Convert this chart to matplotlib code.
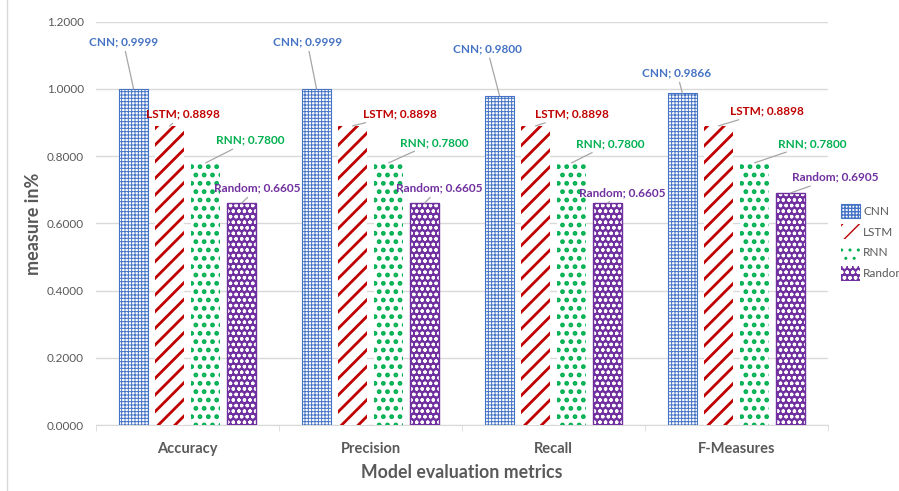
import numpy as np
import matplotlib.pyplot as plt
from matplotlib.patches import Patch

# chart data
metrics = ['Accuracy', 'Precision', 'Recall', 'F-Measures']
models = ['CNN', 'LSTM', 'RNN', 'Random']
cnn = [0.9999, 0.9999, 0.9800, 0.9866]
lstm = [0.8898, 0.8898, 0.8898, 0.8898]
rnn = [0.7800, 0.7800, 0.7800, 0.7800]
rand = [0.6605, 0.6605, 0.6605, 0.6905]
yticks = [0.0, 0.2, 0.4, 0.6, 0.8, 1.0, 1.2]

# where the Excel-style data labels sit (x in category units, y in data units)
lab_x = {
    'CNN': [-0.352, 0.653, 1.637, 2.675],
    'LSTM': [-0.025, 1.161, 2.101, 3.167],
    'RNN': [0.342, 1.347, 2.308, 3.413],
    'Random': [0.380, 1.374, 2.375, 3.540],
}
lab_y = {
    'CNN': [1.140, 1.140, 1.120, 1.048],
    'LSTM': [0.925, 0.925, 0.925, 0.934],
    'RNN': [0.847, 0.841, 0.837, 0.838],
    'Random': [0.705, 0.705, 0.692, 0.737],
}

colors = {'CNN': '#4472C4', 'LSTM': '#C00000', 'RNN': '#00B050', 'Random': '#7030A0'}
values = {'CNN': cnn, 'LSTM': lstm, 'RNN': rnn, 'Random': rand}

plt.rcParams['font.family'] = ['Lato', 'DejaVu Sans']
fig = plt.figure(figsize=(8.99, 4.91), dpi=100)
ax = fig.add_axes([0.107, 0.134, 0.814, 0.822])

x = np.arange(len(metrics))
step = 0.197
width = 0.158
offsets = (np.arange(4) - 1.5) * step


def draw_bars(name, off):
    c = colors[name]
    vals = values[name]
    if name == 'CNN':
        with plt.rc_context({'hatch.linewidth': 0.7}):
            ax.bar(x + off, vals, width, facecolor='white', edgecolor=c, hatch='+++++', linewidth=0.8, zorder=3)
    elif name == 'LSTM':
        with plt.rc_context({'hatch.linewidth': 2.0}):
            ax.bar(x + off, vals, width, facecolor='white', edgecolor=c, hatch='//', linewidth=0, zorder=3)
    elif name == 'RNN':
        with plt.rc_context({'hatch.linewidth': 2.2}):
            ax.bar(x + off, vals, width, facecolor='white', edgecolor=c, hatch='..', linewidth=0, zorder=3)
    else:
        with plt.rc_context({'hatch.linewidth': 0.9}):
            ax.bar(x + off, vals, width, facecolor=c, edgecolor='white', hatch='ooo', linewidth=0, zorder=3)
        ax.bar(x + off, vals, width, fill=False, edgecolor=c, linewidth=1.0, zorder=4)


for name, off in zip(models, offsets):
    draw_bars(name, off)
    for i, v in enumerate(values[name]):
        bx = x[i] + off
        ax.annotate(f'{name}; {v:.4f}', xy=(bx, v), xytext=(lab_x[name][i], lab_y[name][i]),
                    ha='center', va='center', fontsize=8.5, fontweight='bold',
                    color=colors[name], zorder=5,
                    arrowprops=dict(arrowstyle='-', color='#A6A6A6', lw=0.9,
                                    shrinkA=1, shrinkB=0))

ax.set_xlim(-0.5, 3.5)
ax.set_ylim(0, 1.2)
ax.set_yticks(yticks)
ax.set_yticklabels([f'{t:.4f}' for t in yticks], fontsize=8.5, color='#595959')
ax.set_xticks(x)
ax.set_xticklabels(metrics, fontsize=10.5, fontweight='bold', color='#595959')
ax.tick_params(axis='x', length=0, pad=12)
ax.tick_params(axis='y', length=0, pad=9)
ax.set_xticks(np.arange(-0.5, 4, 1), minor=True)
ax.tick_params(axis='x', which='minor', length=4, color='#D9D9D9')
ax.grid(axis='y', color='#D9D9D9', lw=1, zorder=0)
for s in ['top', 'right', 'left']:
    ax.spines[s].set_visible(False)
ax.spines['bottom'].set_color('#D9D9D9')
ax.set_xlabel('Model evaluation metrics', fontsize=12.8, fontweight='bold', color='#595959', labelpad=6)
ax.set_ylabel('measure in%', fontsize=13, fontweight='bold', color='#595959', labelpad=3)

# legend on the right, clipped by the figure edge like the original
handles = []
for name in models:
    c = colors[name]
    if name == 'CNN':
        handles.append(Patch(facecolor='white', edgecolor=c, hatch='+++++', linewidth=0.8))
    elif name == 'LSTM':
        handles.append(Patch(facecolor='white', edgecolor=c, hatch='//', linewidth=0))
    elif name == 'RNN':
        handles.append(Patch(facecolor='white', edgecolor=c, hatch='..', linewidth=0))
    else:
        handles.append(Patch(facecolor=c, edgecolor='white', hatch='ooo', linewidth=0))
fig.legend(handles, models, loc='upper left', bbox_to_anchor=(0.930, 0.595),
           frameon=False, fontsize=8.5, labelcolor='#595959', handlelength=1.6,
           handleheight=1.5, handletextpad=0.3, labelspacing=0.55, borderaxespad=0)

# left border line of the chart area
fig.add_artist(plt.Line2D([0.008, 0.008], [0.0, 1.0], color='#D9D9D9', lw=1))

fig.savefig('out.png', dpi=100)
